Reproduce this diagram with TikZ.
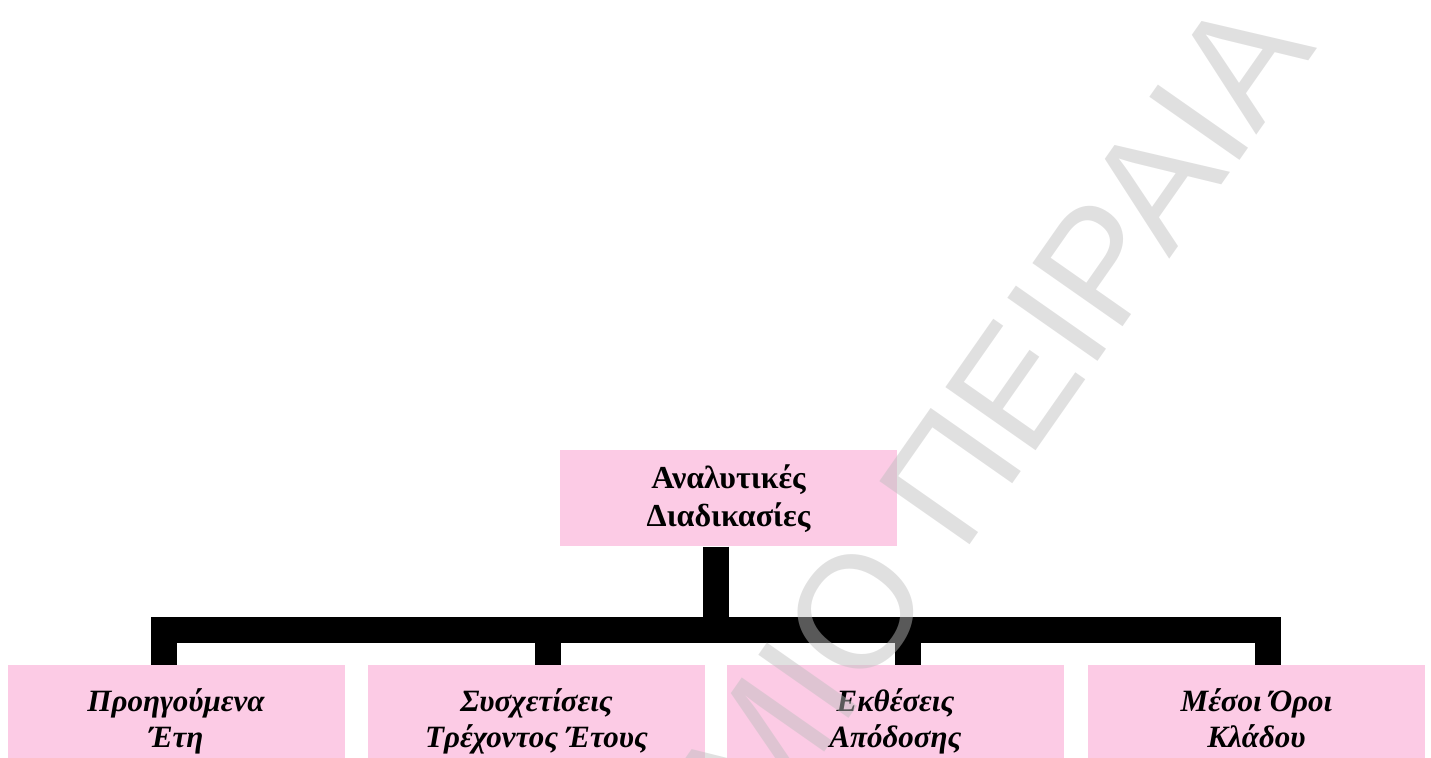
\documentclass[tikz,border=0pt]{standalone}
\usepackage{fontspec}
\setmainfont{Liberation Serif}
\newfontfamily\wmfont{Liberation Sans}
\definecolor{boxpink}{RGB}{252,203,229}
\definecolor{wmgray}{RGB}{190,190,190}
\begin{document}
\begin{tikzpicture}[x=0.5pt,y=-0.5pt,
  box/.style={rectangle, fill=boxpink, draw=none, minimum width=168.5pt,
    minimum height=48pt, inner sep=0pt, align=center,
    font=\fontsize{16}{19}\selectfont\bfseries},
  leaf/.style={box, anchor=north, minimum height=59pt,
    text height=27pt, text depth=4pt,
    font=\fontsize{15.5}{18}\selectfont\bfseries\itshape},
  conn/.style={line width=13pt, black, line join=miter},
  wm/.style={text=wmgray, text opacity=0.47, inner sep=0pt,
    font=\wmfont\fontsize{80}{80}\selectfont}]
\useasboundingbox (0,0) rectangle (1431,758);
\clip (0,0) rectangle (1431,758);

% boxes
\node[box] (top) at (728.5,498.3) {Αναλυτικές\\Διαδικασίες};
\node[leaf] (b1) at (176,665) {Προηγούμενα\\Έτη};
\node[leaf] (b2) at (536.5,665) {Συσχετίσεις\\Τρέχοντος Έτους};
\node[leaf] (b3) at (895.5,665) {Εκθέσεις\\Απόδοσης};
\node[leaf] (b4) at (1256.5,665) {Μέσοι Όροι\\Κλάδου};

% junction points on the horizontal bar
\coordinate (hub) at (715.5,630);
\coordinate (j1) at (163.7,630);
\coordinate (j2) at (548,630);
\coordinate (j3) at (908.2,630);
\coordinate (j4) at (1268.2,630);

% connectors
\draw[conn] (hub |- top.south) -- (hub);
\draw[conn] (j1 |- b1.north) -- (j1) -- (j4) -- (j4 |- b4.north);
\draw[conn] (j2) -- (j2 |- b2.north);
\draw[conn] (j3) -- (j3 |- b3.north);

% watermark
\node[wm, rotate=55, anchor=base east] (mark) at (1318,48) {ΠΑΝΕΠΙΣΤΗΜΙΟ ΠΕΙΡΑΙΑ};
\end{tikzpicture}
\end{document}
